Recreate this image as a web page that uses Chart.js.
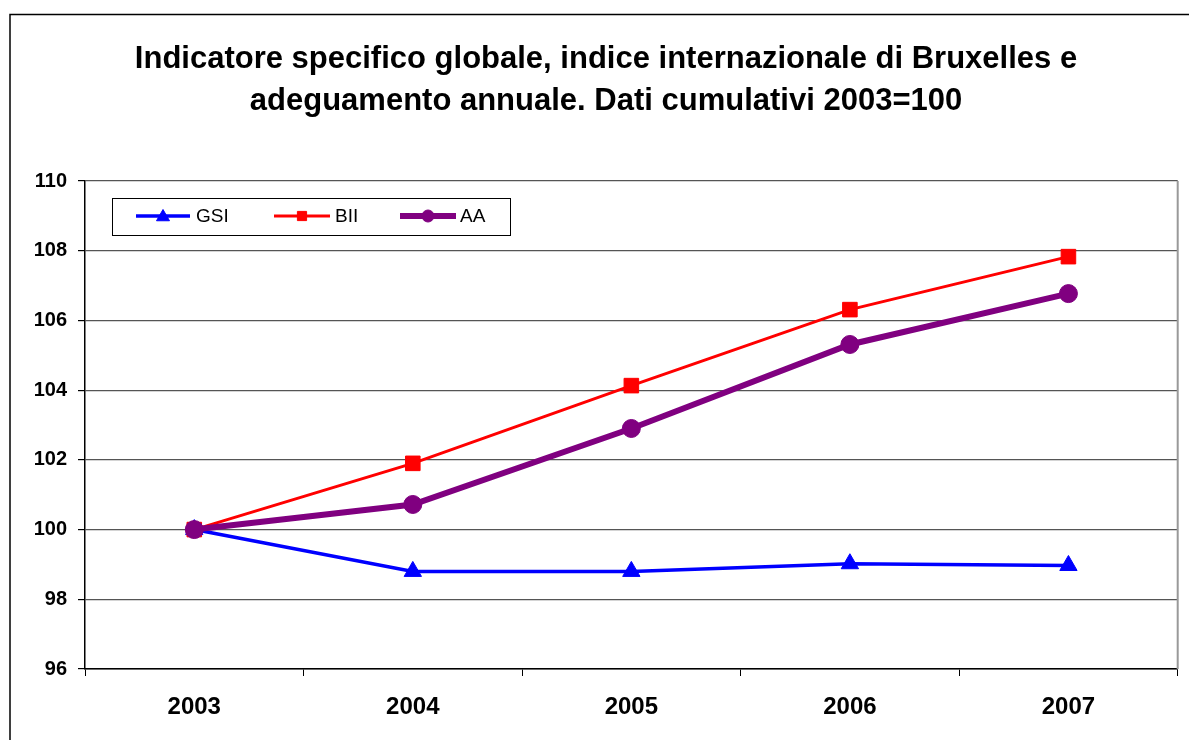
<!DOCTYPE html>
<html>
<head>
<meta charset="utf-8">
<script src="https://cdn.jsdelivr.net/npm/chart.js@4.4.1/dist/chart.umd.min.js"></script>
<style>
  html, body { margin: 0; padding: 0; background: #fff; }
  #wrap { width: 1189px; height: 740px; position: relative; }
</style>
</head>
<body>
<div id="wrap"><canvas id="c" width="1189" height="740"></canvas></div>
<script>
const titleLines = ["Indicatore specifico globale, indice internazionale di Bruxelles e", "adeguamento annuale. Dati cumulativi 2003=100"];
const categories = ["2003", "2004", "2005", "2006", "2007"];
const gsiValues = [100, 98.8, 98.8, 99.02, 98.97];
const biiValues = [100, 101.9, 104.13, 106.31, 107.83];
const aaValues = [100, 100.72, 102.9, 105.31, 106.77];
const yTicks = [96, 98, 100, 102, 104, 106, 108, 110];

const FONT = "'Liberation Sans', Arial, Helvetica, sans-serif";

const frame = {
  id: 'frame',
  beforeDraw(chart) {
    const ctx = chart.ctx;
    ctx.save();
    ctx.fillStyle = '#fff';
    ctx.fillRect(0, 0, chart.width, chart.height);
    ctx.strokeStyle = '#000';
    ctx.lineWidth = 1.5;
    ctx.beginPath();
    ctx.moveTo(10, 760);
    ctx.lineTo(10, 14.5);
    ctx.lineTo(1200, 14.5);
    ctx.stroke();
    ctx.restore();
  },
  afterDatasetsDraw(chart) {
    const ctx = chart.ctx;
    const a = chart.chartArea;
    ctx.save();
    ctx.strokeStyle = '#999';
    ctx.lineWidth = 2;
    ctx.beginPath();
    ctx.moveTo(a.right, a.top);
    ctx.lineTo(a.right, a.bottom);
    ctx.stroke();
    // legend box
    const bx = 112.5, by = 198.5, bw = 398, bh = 37;
    ctx.fillStyle = '#fff';
    ctx.fillRect(bx, by, bw, bh);
    ctx.strokeStyle = '#000';
    ctx.lineWidth = 1;
    ctx.strokeRect(bx, by, bw, bh);
    const items = [
      { ds: 0, x1: 136, x2: 190, tx: 196, r: 7.5, dy: 1 },
      { ds: 1, x1: 274, x2: 330, tx: 335, r: 6.5, dy: 0 },
      { ds: 2, x1: 400, x2: 456, tx: 460, r: 6, dy: 0 }
    ];
    const cy = 216;
    items.forEach(it => {
      const d = chart.data.datasets[it.ds];
      ctx.strokeStyle = d.borderColor;
      ctx.lineWidth = d.borderWidth;
      ctx.beginPath();
      ctx.moveTo(it.x1, cy);
      ctx.lineTo(it.x2, cy);
      ctx.stroke();
      ctx.fillStyle = d.pointBackgroundColor;
      ctx.strokeStyle = d.pointBorderColor;
      ctx.lineWidth = 1;
      Chart.helpers.drawPoint(ctx, {
        pointStyle: d.pointStyle, radius: it.r, rotation: 0, borderWidth: 1
      }, (it.x1 + it.x2) / 2, cy + it.dy);
      ctx.fillStyle = '#000';
      ctx.font = "19px " + FONT;
      ctx.textBaseline = 'middle';
      ctx.textAlign = 'left';
      ctx.fillText(d.label, it.tx, cy + 1);
    });
    ctx.restore();
  }
};

new Chart(document.getElementById('c'), {
  type: 'line',
  data: {
    labels: categories,
    datasets: [
      {
        label: 'GSI', data: gsiValues, borderColor: '#0000ff', backgroundColor: '#0000ff',
        pointBackgroundColor: '#0000ff', pointBorderColor: '#0000ff',
        borderWidth: 3.5, pointStyle: 'triangle', pointRadius: 10, pointBorderWidth: 1, order: 2
      },
      {
        label: 'BII', data: biiValues, borderColor: '#ff0000', backgroundColor: '#ff0000',
        pointBackgroundColor: '#ff0000', pointBorderColor: '#ff0000',
        borderWidth: 3, pointStyle: 'rect', pointRadius: 10.3, pointBorderWidth: 1, order: 1
      },
      {
        label: 'AA', data: aaValues, borderColor: '#800080', backgroundColor: '#800080',
        pointBackgroundColor: '#800080', pointBorderColor: '#800080',
        borderWidth: 6, pointStyle: 'circle', pointRadius: 9, pointBorderWidth: 1, order: 0
      }
    ]
  },
  options: {
    responsive: false,
    animation: false,
    devicePixelRatio: 1,
    layout: { padding: { left: 34, right: 11, top: 0, bottom: 0 } },
    plugins: {
      legend: { display: false },
      tooltip: { enabled: false },
      title: {
        display: true,
        text: titleLines,
        color: '#000',
        font: { family: FONT, size: 31, weight: 'bold', lineHeight: '42px' },
        padding: { top: 38, bottom: 59 }
      }
    },
    scales: {
      x: {
        offset: true,
        afterFit(s) { s.height = 71; },
        border: { display: true, color: '#000', width: 1.5 },
        grid: { offset: true, drawOnChartArea: false, tickLength: 7, color: '#000', lineWidth: 1 },
        ticks: { color: '#000', padding: 17, font: { family: FONT, size: 24, weight: 'bold' }, maxRotation: 0 }
      },
      y: {
        min: 96, max: 110,
        afterFit(s) { s.width = 51; },
        afterBuildTicks(s) { s.ticks = yTicks.map(v => ({ value: v })); },
        border: { display: true, color: '#000', width: 1.5 },
        grid: { color: '#555', lineWidth: 1.2, tickLength: 7, tickColor: '#000' },
        ticks: { color: '#000', padding: 11, font: { family: FONT, size: 20, weight: 'bold' } }
      }
    }
  },
  plugins: [frame]
});
</script>
</body>
</html>
